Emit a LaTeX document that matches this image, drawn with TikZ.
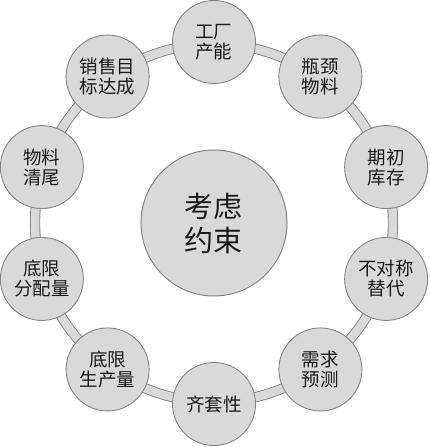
\documentclass[tikz,border=0pt]{standalone}
\usepackage{fontspec}
\usetikzlibrary{positioning}
\newfontfamily\cjk{Noto Sans CJK SC}
\definecolor{RGfill}{HTML}{D9D9D9}
\definecolor{RGline}{HTML}{858585}
\definecolor{RGink}{HTML}{1A1A1A}

\begin{document}
\begin{tikzpicture}[
  x=1pt,y=1pt,
  core/.style={circle,draw=RGline,line width=1pt,fill=RGfill,minimum size=146pt,
    inner sep=0pt,align=center,text=RGink,font=\cjk\fontsize{29}{34}\selectfont},
  factor/.style={circle,draw=RGline,line width=0.9pt,fill=RGfill,minimum size=83pt,
    inner sep=0pt,align=center,text=RGink,font=\cjk\fontsize{18.5}{20}\selectfont},
  ring/.style={draw=RGline,line width=0.9pt,double=RGfill,double distance=8.5pt}
]
\useasboundingbox (-214,-224) rectangle (215,223);

\node[core] (center) at (0,0) {考虑\\约束};
\draw[ring] (center) circle (179);

% ten constraint factors, clockwise from the top
\foreach \name/\ang/\txt in {
  fa/90/{工厂\\产能},
  fb/54/{瓶颈\\物料},
  fc/18/{期初\\库存},
  fd/-18/{不对称\\替代},
  fe/-54/{需求\\预测},
  ff/-90/{齐套性},
  fg/-126/{底限\\生产量},
  fh/-162/{底限\\分配量},
  fi/162/{物料\\清尾},
  fj/126/{销售目\\标达成}}{
  \node[factor] (\name) at (\ang:181) {\txt};
}
\end{tikzpicture}
\end{document}
